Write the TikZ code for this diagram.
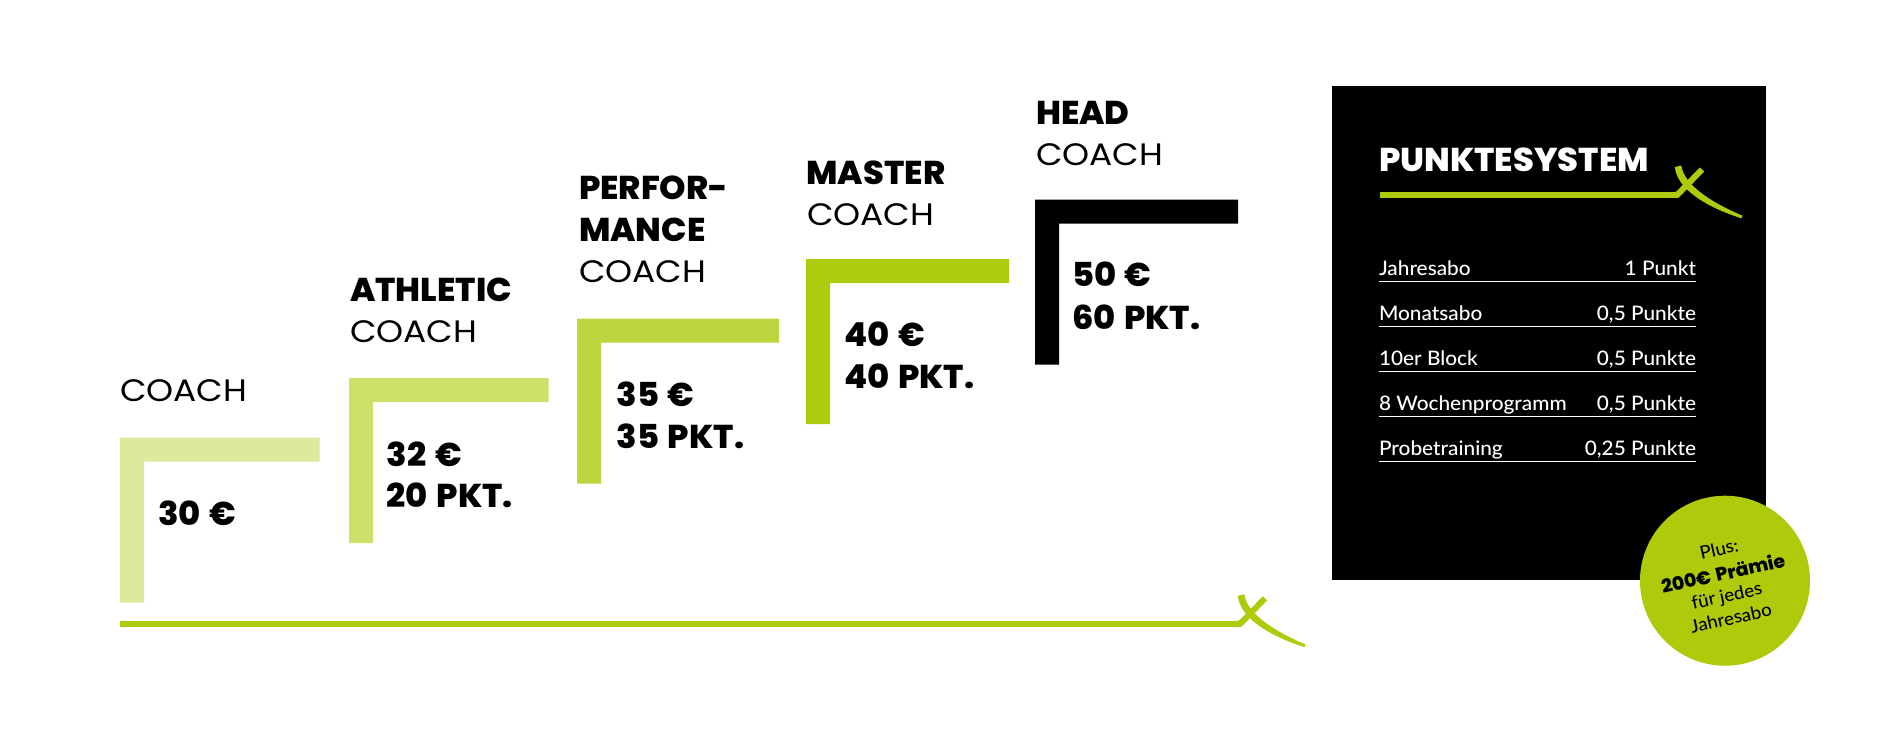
\documentclass[tikz,border=0pt]{standalone}
\usepackage{fontspec}
\setmainfont{Lato}
\newfontfamily\heavyf[UprightFont=* ExtraBold,FakeStretch=1.02,WordSpace=1.35]{Poppins}
\newfontfamily\lightf[FakeStretch=1.11]{Poppins}
\newfontfamily\rowf[UprightFont=* Medium,FakeStretch=1.04]{Lato}
\definecolor{lvla}{HTML}{DFE99E}
\definecolor{lvlb}{HTML}{CFE06A}
\definecolor{lvlc}{HTML}{BDD53F}
\definecolor{lvld}{HTML}{AECB0D}
\definecolor{brandgreen}{HTML}{AFCA0B}
\tikzset{
  lbl/.style={inner sep=0pt,outer sep=0pt,anchor=base west},
  strong/.style={lbl,font=\heavyf\fontsize{33}{33}\selectfont,text=black},
  thin/.style={lbl,font=\lightf\fontsize{31}{31}\selectfont,text=black},
  rowl/.style={lbl,font=\rowf\fontsize{20}{20}\selectfont,text=white},
  rowr/.style={rowl,anchor=base east},
  rowrule/.style={draw=white,line width=1.1pt},
  badge/.style={inner sep=0pt,rotate=12.5,font=\rowf\fontsize{18}{18}\selectfont,text=black},
  bar/.style={line width=6.2pt,draw=brandgreen,line join=miter},
  xmark/.pic={
    \draw[bar,line width=6pt] (-3,-0.4) -- (-0.5,-0.4) -- (24,-25.5);
    \fill[brandgreen] (-3.2,-28) .. controls (-1,-6) and (28,12) .. (63.5,23.3)
      -- (64.5,20.7) .. controls (30,6) and (6,-11) .. (3.3,-29.5) -- cycle;
  }
}
\newcommand{\bracket}[4]{% x, y, colour, width
  \fill[#3] (#1,#2) -- (#1+#4,#2) -- (#1+#4,#2+24) -- (#1+24,#2+24)
    -- (#1+24,#2+165) -- (#1,#2+165) -- cycle;}
\begin{document}
\begin{tikzpicture}[x=1pt,y=-1pt]
\useasboundingbox (0,0) rectangle (1896,729);
\fill[white] (0,0) rectangle (1896,729);
\bracket{120}{437.5}{lvla}{199.5}
\bracket{349}{378}{lvlb}{199.5}
\bracket{577}{318.7}{lvlc}{202}
\bracket{806}{259}{lvld}{203}
\bracket{1035}{199.7}{black}{203}

\node[thin] (c1) at (120,401.7) {COACH};
\node[strong] (p1) at (158,525.7) {30 €};

\node[strong] (t2) at (350,301) {ATHLETIC};
\node[thin] (c2) at (350,342.3) {COACH};
\node[strong] (p2) at (386.7,466) {32 €};
\node[strong] (q2) at (386.7,507.7) {20 PKT.};

\node[strong] (t3a) at (579,199) {PERFOR-};
\node[strong] (t3b) at (579,241) {MANCE};
\node[thin] (c3) at (579,282.3) {COACH};
\node[strong] (p3) at (616.7,406.7) {35 €};
\node[strong] (q3) at (616.7,448.3) {35 PKT.};

\node[strong] (t4) at (806.5,184) {MASTER};
\node[thin] (c4) at (807,225) {COACH};
\node[strong] (p4) at (844,346) {40 €};
\node[strong] (q4) at (844,388.3) {40 PKT.};

\node[strong] (t5) at (1036,124) {HEAD};
\node[thin] (c5) at (1036,165.7) {COACH};
\node[strong] (p5) at (1072,286.7) {50 €};
\node[strong] (q5) at (1072,329.3) {60 PKT.};

\coordinate (basea) at (120,623.8);
\coordinate (baseb) at (1241,623.8);
\draw[bar] (basea) -- (baseb);
\pic at (baseb) {xmark};

\fill[black] (1332,86) rectangle (1766,580);
\node[strong,text=white] (title) at (1379,171.7) {PUNKTESYSTEM};
\coordinate (tla) at (1380,195);
\coordinate (tlb) at (1678,195);
\draw[bar] (tla) -- (tlb);
\pic at (tlb) {xmark};

\node[rowl] (r1l) at (1379,275) {Jahresabo};
\node[rowr] (r1r) at (1696,275) {1 Punkt};
\node[rowl] (r2l) at (1379,320) {Monatsabo};
\node[rowr] (r2r) at (1696,320) {0,5 Punkte};
\node[rowl] (r3l) at (1379,365) {10er Block};
\node[rowr] (r3r) at (1696,365) {0,5 Punkte};
\node[rowl] (r4l) at (1379,410) {8 Wochenprogramm};
\node[rowr] (r4r) at (1696,410) {0,5 Punkte};
\node[rowl] (r5l) at (1379,455) {Probetraining};
\node[rowr] (r5r) at (1696,455) {0,25 Punkte};
\draw[rowrule] (1379,281.3) -- (1696,281.3);
\draw[rowrule] (1379,326.3) -- (1696,326.3);
\draw[rowrule] (1379,371.5) -- (1696,371.5);
\draw[rowrule] (1379,416.3) -- (1696,416.3);
\draw[rowrule] (1379,461.3) -- (1696,461.3);

\fill[brandgreen] (1725,580.7) circle[radius=85];
\node[badge] (b1) at (1719,549) {Plus:};
\node[badge,font=\heavyf\fontsize{18.5}{18.5}\selectfont] (b2) at (1723,573) {200€ Prämie};
\node[badge] (b3) at (1727,597) {für jedes};
\node[badge] (b4) at (1731,618) {Jahresabo};
\end{tikzpicture}
\end{document}
